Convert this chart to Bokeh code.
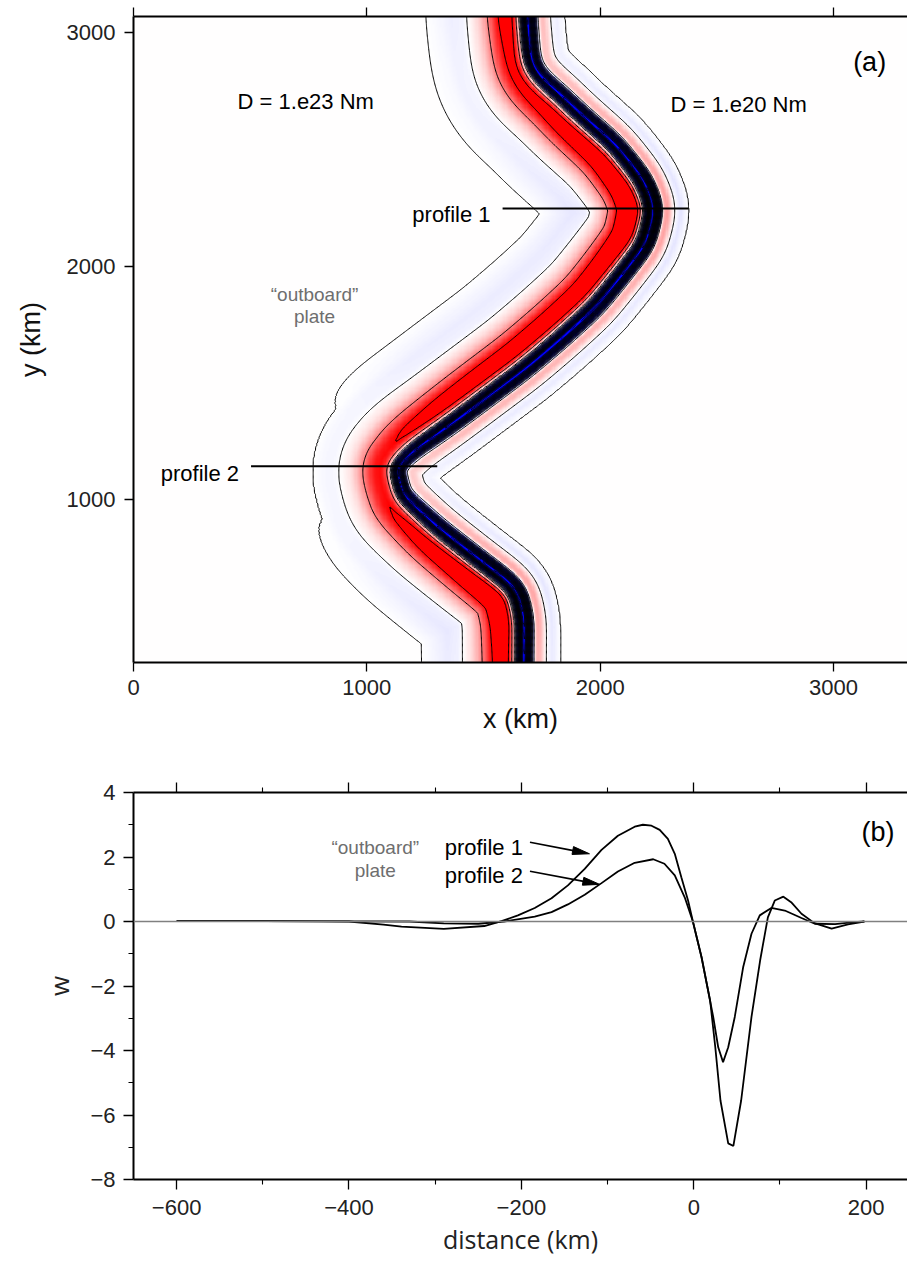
import numpy as np
from bokeh.plotting import figure
from bokeh.layouts import column
from bokeh.models import (LinearColorMapper, FixedTicker, LinearAxis, Label,
                          Range1d, Span)
from bokeh.embed import file_html
from bokeh.resources import INLINE

# ---------------- data ----------------
# plate boundary (trench, zero crossing) trace in panel (a), km
trench_y = [3070, 2924, 2851, 2783, 2710, 2637, 2496, 2354, 2247, 2110, 1981,
            1853, 1724, 1596, 1467, 1339, 1232, 1142, 996, 855, 709, 598, 482, 302]
trench_x = [1650, 1663, 1676, 1719, 1804, 1877, 2036, 2147, 2190, 2156, 2057,
            1954, 1813, 1663, 1491, 1320, 1170, 1089, 1127, 1277, 1461, 1607, 1633, 1633]
profile_y = [2247, 1142]

# panel (b) profiles: distance (km) and deflection w
prof1_d = [-600, -500, -430, -400, -360, -339, -290, -243, -223, -204, -184.5, -165,
           -146, -126.5, -107, -88, -68.5, -59, -49, -39.5, -30, -22, -14.4, -6.6, -1,
           9, 19, 25, 31, 40, 46, 55, 67, 77, 86, 94, 104, 113, 125, 140, 160, 179, 198]
prof1_w = [0.01, 0.01, 0.005, 0.0, -0.1, -0.16, -0.23, -0.14, 0.01, 0.19, 0.42, 0.72,
           1.12, 1.63, 2.22, 2.66, 2.94, 3.0, 2.97, 2.84, 2.56, 2.10, 1.37, 0.65, 0.0,
           -1.1, -2.45, -3.9, -5.55, -6.88, -6.96, -5.55, -2.96, -1.21, 0.13, 0.65, 0.77,
           0.6, 0.24, -0.05, -0.22, -0.09, 0.0]
prof2_d = [-600, -500, -400, -330, -290, -250, -220, -184.5, -165, -146, -126.5, -107,
           -88, -68.5, -47, -34, -22, -10.5, -1, 9, 22.6, 28.4, 34, 40, 47.6, 57.3, 67,
           76.6, 90, 105.6, 125, 140.5, 164, 183, 198]
prof2_w = [0.01, 0.01, 0.005, 0.0, -0.06, -0.07, 0.0, 0.15, 0.29, 0.53, 0.83, 1.19,
           1.55, 1.82, 1.93, 1.79, 1.43, 0.75, 0.0, -1.1, -2.96, -3.9, -4.36, -3.9,
           -2.96, -1.42, -0.38, 0.19, 0.42, 0.34, 0.11, -0.07, -0.08, -0.03, 0.0]
far_field = 0.01

neg_levels = [-7.0, -6.75, -6.5, -6.25, -6.0, -5.75, -5.5, -5.25, -5.0, -4.75, -4.5,
              -4.25, -4.0, -3.75, -3.5, -3.25, -3.0, -2.75, -2.5, -2.25, -2.0, -1.75,
              -1.5, -1.25, -1.0, -0.75, -0.5]
pos_levels = [0, 1, 2, 3]
xticks_a = [0, 1000, 2000, 3000]
yticks_a = [1000, 2000, 3000]
xticks_b = [-600, -400, -200, 0, 200]
xminor_b = [-500, -300, -100, 100]
yticks_b = [-8, -6, -4, -2, 0, 2, 4]
yminor_b = [-7, -5, -3, -1, 1, 3]

arrow_start_x = [-190, -190]
arrow_start_y = [2.46, 1.56]
arrow_end_x = [-121, -109]
arrow_end_y = [2.10, 1.15]

# ---------------- layout constants ----------------
FW, FHA, FHB = 774, 646, 387
XA = (0, 3317)
YA = (301, 3070)
XB = (-650, 248)
YB = (-8, 4)
TICKFONT = "Liberation Sans"
HUMFONT = "Open Sans"
GRAY = "#6e6e6e"

# ---------------- build the deflection map ----------------
step = 5.0
gx = np.arange(XA[0], XA[1] + step, step)
gy = np.arange(YA[0], YA[1] + step, step)
ty = np.array(trench_y[::-1], float)
tx = np.array(trench_x[::-1], float)

cstep = 4.0
cy = np.arange(-400, 3800, cstep)
cx = np.interp(cy, ty, tx)


def gsmooth(a, sigma, st):
    s = sigma / st
    r = int(3 * s)
    k = np.exp(-0.5 * (np.arange(-r, r + 1) / s) ** 2)
    k /= k.sum()
    return np.convolve(np.pad(a, r, mode="edge"), k, mode="valid")


cx = gsmooth(cx, 32, cstep)
slope = np.gradient(cx, cstep)
curv = gsmooth(np.gradient(slope, cstep) / (1 + slope ** 2) ** 1.5, 110, cstep)
kref = 0.5 * (abs(np.interp(profile_y[0], cy, curv)) + abs(np.interp(profile_y[1], cy, curv)))
w1c = np.clip(0.5 - 0.5 * curv / kref, 0, 1)

D = np.zeros((len(gy), len(gx)))
WT = np.zeros((len(gy), len(gx)))
chunk = 12
for r0 in range(0, len(gy), chunk):
    rows = gy[r0:r0 + chunk]
    sel = np.where((cy > rows[0] - 700) & (cy < rows[-1] + 700))[0]
    ccx = cx[sel].astype(np.float32)
    ccy = cy[sel].astype(np.float32)
    Xc = gx[None, :, None].astype(np.float32)
    Yc = rows[:, None, None].astype(np.float32)
    d2 = (Xc - ccx[None, None, :]) ** 2 + (Yc - ccy[None, None, :]) ** 2
    idx = np.argmin(d2, axis=2)
    dmin = np.sqrt(np.take_along_axis(d2, idx[..., None], axis=2)[..., 0])
    sgn = np.sign(gx[None, :] - np.interp(rows, cy, cx)[:, None])
    D[r0:r0 + chunk] = sgn * dmin
    WT[r0:r0 + chunk] = w1c[sel][idx]

P1 = np.interp(D, prof1_d, prof1_w, left=far_field, right=far_field)
P2 = np.interp(D, prof2_d, prof2_w, left=far_field, right=far_field)
W = WT * P1 + (1 - WT) * P2

pal = []
for i in range(256):
    t = i / 255
    if t < 0.5:
        v = int(round(255 * t / 0.5))
        pal.append("#%02x%02x%02x" % (v, v, 255))
    else:
        v = int(round(255 * (1 - t) / 0.5))
        pal.append("#%02x%02x%02x" % (255, v, v))
cmap = LinearColorMapper(palette=pal, low=-2, high=2)


def style_axis(ax, size="22px"):
    ax.axis_line_width = 2
    ax.axis_line_color = "black"
    ax.major_tick_line_width = 1.3
    ax.minor_tick_line_width = 1.1
    ax.major_tick_out = 9
    ax.major_tick_in = 0
    ax.minor_tick_in = 0
    ax.major_label_text_font = TICKFONT
    ax.major_label_text_font_size = size
    ax.major_label_text_color = "#222222"


def hide_labels(ax):
    ax.major_label_text_font_size = "0px"
    ax.major_label_text_color = None
    ax.major_label_standoff = 0


# ---------------- panel (a) ----------------
pA = figure(frame_width=FW, frame_height=FHA, x_range=Range1d(*XA), y_range=Range1d(*YA),
            output_backend="svg", toolbar_location=None,
            min_border_left=132, min_border_right=1, min_border_top=16, min_border_bottom=92)
pA.outline_line_color = None
pA.xgrid.visible = False
pA.ygrid.visible = False

pA.image(image=[W], x=gx[0], y=gy[0], dw=gx[-1] - gx[0], dh=gy[-1] - gy[0], color_mapper=cmap)
pA.contour(gx, gy, W, neg_levels, line_color="black", line_width=0.8)
pA.contour(gx, gy, W, pos_levels, line_color="black", line_width=1.0)

for py in profile_y:
    x0 = float(np.interp(py, cy, cx))
    pA.line([x0 + prof1_d[0], x0 + prof1_d[-1]], [py, py], line_color="black", line_width=2)

ax = pA.xaxis[0]
style_axis(ax)
ax.ticker = FixedTicker(ticks=xticks_a)
ax.minor_tick_out = 0
ax.major_label_standoff = 8
ax.axis_label = "x (km)"
ax.axis_label_text_font = TICKFONT
ax.axis_label_text_font_size = "27px"
ax.axis_label_text_font_style = "normal"
ax.axis_label_text_color = "#111111"
ax.axis_label_standoff = 6
ay = pA.yaxis[0]
style_axis(ay)
ay.ticker = FixedTicker(ticks=yticks_a)
ay.minor_tick_out = 0
ay.major_label_standoff = 9
ay.axis_label = "y (km)"
ay.axis_label_text_font = TICKFONT
ay.axis_label_text_font_size = "27px"
ay.axis_label_text_font_style = "normal"
ay.axis_label_text_color = "#111111"
ay.axis_label_standoff = 18
atop = LinearAxis(ticker=FixedTicker(ticks=xticks_a), minor_tick_out=0)
style_axis(atop)
hide_labels(atop)
pA.add_layout(atop, "above")

for txt, x, y, al, fs, col in [
        ("D = 1.e23 Nm", 446, 2706, "left", "22px", "black"),
        ("D = 1.e20 Nm", 2301, 2693, "left", "22px", "black"),
        ("(a)", 3084, 2874, "left", "27px", "black"),
        ("\u201coutboard\u201d", 776, 1878, "center", "19px", GRAY),
        ("plate", 776, 1784, "center", "19px", GRAY)]:
    pA.add_layout(Label(x=x, y=y, text=txt, text_align=al, text_baseline="alphabetic",
                        text_font=TICKFONT, text_font_size=fs, text_color=col))

for txt, py, by in [("profile 1", profile_y[0], 2221), ("profile 2", profile_y[1], 1111)]:
    x0 = float(np.interp(py, cy, cx)) + prof1_d[0]
    pA.add_layout(Label(x=x0, y=by, x_offset=-12, text=txt, text_align="right",
                        text_baseline="alphabetic", text_font=TICKFONT,
                        text_font_size="22px", text_color="black"))

# ---------------- panel (b) ----------------
pB = figure(frame_width=FW, frame_height=FHB, x_range=Range1d(*XB), y_range=Range1d(*YB),
            output_backend="svg", toolbar_location=None,
            min_border_left=133, min_border_right=0, min_border_top=38, min_border_bottom=81)
pB.outline_line_color = None
pB.xgrid.visible = False
pB.ygrid.visible = False

pB.add_layout(Span(location=0, dimension="width", line_color="#808080", line_width=1.6))
pB.add_layout(Span(location=XB[1], dimension="height", line_color="#bbbbbb", line_width=1))
pB.line(prof1_d, prof1_w, line_color="black", line_width=1.8)
pB.line(prof2_d, prof2_w, line_color="black", line_width=1.8)

# arrows (head built in screen pixels through the axis scales)
sx = FW / (XB[1] - XB[0])
sy = FHB / (YB[1] - YB[0])
hx, hy = [], []
for xs, ys, xe, ye in zip(arrow_start_x, arrow_start_y, arrow_end_x, arrow_end_y):
    dx, dy = (xe - xs) * sx, (ye - ys) * sy
    L = np.hypot(dx, dy)
    ux, uy = dx / L, dy / L
    nx, ny = -uy, ux
    hl, hw = 17, 8
    bx, by = xe * sx - ux * hl, ye * sy - uy * hl
    hx.append([xe, (bx + nx * hw / 2) / sx, (bx - nx * hw / 2) / sx])
    hy.append([ye, (by + ny * hw / 2) / sy, (by - ny * hw / 2) / sy])
    lx_end = (xe * sx - ux * (hl - 2)) / sx
    ly_end = (ye * sy - uy * (hl - 2)) / sy
    pB.line([xs, lx_end], [ys, ly_end], line_color="black", line_width=1.6)
pB.patches(hx, hy, fill_color="black", line_color="black", line_width=1)

bx_ = pB.xaxis[0]
style_axis(bx_)
bx_.ticker = FixedTicker(ticks=xticks_b, minor_ticks=xminor_b)
bx_.major_tick_out = 10
bx_.minor_tick_out = 5
bx_.major_label_standoff = 10
bx_.major_label_overrides = {t: ("\u2212%d" % -t if t < 0 else "%d" % t) for t in xticks_b}
bx_.axis_label = "distance (km)"
bx_.axis_label_text_font = HUMFONT
bx_.axis_label_text_font_size = "25px"
bx_.axis_label_text_font_style = "normal"
bx_.axis_label_text_color = "#222222"
bx_.axis_label_standoff = 4
by_ = pB.yaxis[0]
style_axis(by_)
by_.ticker = FixedTicker(ticks=yticks_b, minor_ticks=yminor_b)
by_.major_tick_out = 10
by_.minor_tick_out = 5
by_.major_label_standoff = 8
by_.major_label_overrides = {t: ("\u2212%d" % -t if t < 0 else "%d" % t) for t in yticks_b}
by_.axis_label = "w"
by_.axis_label_text_font = HUMFONT
by_.axis_label_text_font_size = "26px"
by_.axis_label_text_font_style = "normal"
by_.axis_label_text_color = "#222222"
by_.axis_label_standoff = 10
btop = LinearAxis(ticker=FixedTicker(ticks=xticks_b, minor_ticks=xminor_b))
style_axis(btop)
btop.major_tick_out = 10
btop.minor_tick_out = 5
hide_labels(btop)
pB.add_layout(btop, "above")

for txt, x, y, al, fs, col, fnt in [
        ("profile 1", -289, 2.28, "left", "22px", "black", TICKFONT),
        ("profile 2", -289, 1.43, "left", "22px", "black", TICKFONT),
        ("(b)", 194.7, 2.77, "left", "27px", "black", TICKFONT),
        ("\u201coutboard\u201d", -369.5, 2.28, "center", "19px", GRAY, TICKFONT),
        ("plate", -369.5, 1.58, "center", "19px", GRAY, TICKFONT)]:
    pB.add_layout(Label(x=x, y=y, text=txt, text_align=al, text_baseline="alphabetic",
                        text_font=fnt, text_font_size=fs, text_color=col))

layout = column(pA, pB, spacing=0)
open("out.html", "w").write(file_html(layout, INLINE))
